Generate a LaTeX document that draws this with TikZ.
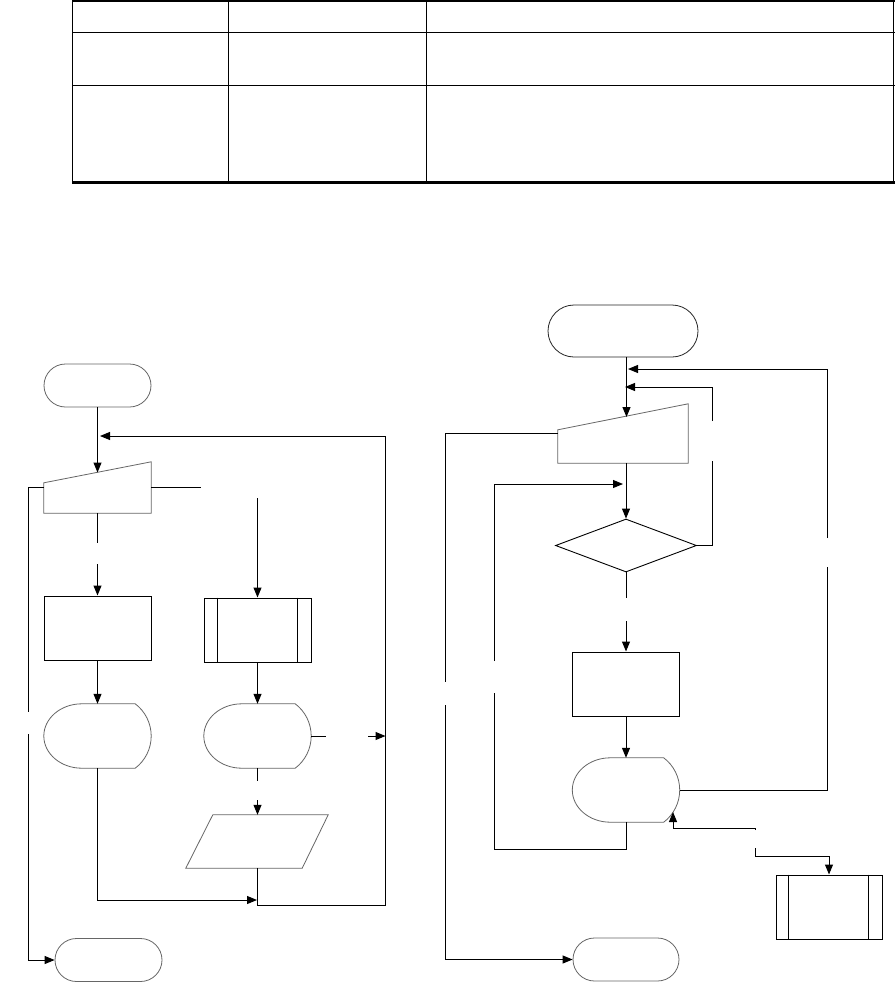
\documentclass[tikz,border=0pt]{standalone}
\usetikzlibrary{arrows.meta,shapes.geometric,shapes.misc,calc}
\newcommand{\drawdisplay}[1]{%
  \draw[outl] ([xshift=38pt]#1.north west) -- ([xshift=-16pt]#1.north east)
    .. controls ([xshift=-5.9pt,yshift=-7.6pt]#1.north east) and ([yshift=12.6pt]#1.east) .. (#1.east)
    .. controls ([yshift=-12.6pt]#1.east) and ([xshift=-5.9pt,yshift=7.6pt]#1.south east) .. ([xshift=-16pt]#1.south east)
    -- ([xshift=38pt]#1.south west)
    .. controls ([xshift=17pt]#1.south west) and ([yshift=-17.7pt]#1.west) .. (#1.west)
    .. controls ([yshift=17.7pt]#1.west) and ([xshift=17pt]#1.north west) .. cycle;}
\begin{document}
\begin{tikzpicture}[x=1pt,y=-1pt,
  conn/.style={line width=1pt, draw=black},
  arr/.style={conn, -{Triangle[length=10pt,width=8pt]}},
  outl/.style={line width=0.8pt, draw=black!60},
  proc/.style={draw=black, line width=1pt, minimum width=107pt, minimum height=64pt, inner sep=0pt},
  term/.style={rounded rectangle, outl, minimum width=107pt, minimum height=43pt, inner sep=0pt},
  ghost/.style={inner sep=0pt, minimum width=107pt, minimum height=64pt},
  tbl/.style={line width=1pt, draw=black}
]
\fill[white] (0,0) rectangle (895,982);
\useasboundingbox (0,0) rectangle (895,982);

% ---------- table ----------
\draw[tbl] (72.5,0) -- (72.5,183);
\draw[tbl] (228,0) -- (228,183);
\draw[tbl] (426,0) -- (426,183);
\draw[tbl] (893.5,0) -- (893.5,183);
\draw[tbl] (72,32.5) -- (895,32.5);
\draw[tbl] (72,85.5) -- (895,85.5);
\draw[line width=2.2pt] (72,1.1) -- (895,1.1);
\draw[line width=2.4pt] (72,182.5) -- (895,182.5);

% ---------- left flowchart ----------
\node[term] (t1) at (97.5,385.5) {};
\node[ghost, minimum height=51pt] (m1) at (97.5,487.5) {};
\draw[outl] (m1.south west) -- (m1.south east) -- (m1.north east) -- ([yshift=-21pt]m1.north west) -- cycle;
\node[proc] (p1) at (97.5,628) {};
\node[proc] (s1) at (257.5,630) {};
\draw[line width=1pt] ([xshift=14pt]s1.north west) -- ([xshift=14pt]s1.south west);
\draw[line width=1pt] ([xshift=-14pt]s1.north east) -- ([xshift=-14pt]s1.south east);
\node[ghost] (d1) at (97.5,736) {};
\drawdisplay{d1}
\node[ghost] (d2) at (257.5,736) {};
\drawdisplay{d2}
\node[ghost, minimum width=142pt, minimum height=53pt] (pg) at (257,841.5) {};
\draw[outl] ([xshift=27pt]pg.north west) -- (pg.north east) -- ([xshift=-26pt]pg.south east) -- (pg.south west) -- cycle;
\node[term] (t2) at (108.5,960) {};

\coordinate (m1in) at (97.5,472.5);
\coordinate (lp) at (100,436);
\coordinate (rc) at (385.5,905);
\coordinate (pgout) at (257.5,868);
\coordinate (g1a) at (28,712);
\coordinate (g1b) at (28,734);
\coordinate (g2a) at (201,487.5);
\coordinate (g2b) at (257.5,498);
\coordinate (g3a) at (97.5,543);
\coordinate (g3b) at (97.5,564);
\coordinate (jn) at (257,900);
\coordinate (g4a) at (326,736);
\coordinate (g4b) at (368,736);
\coordinate (g4c) at (385.5,736);
\coordinate (g5a) at (257.5,781);
\coordinate (g5b) at (257.5,800);

\draw[arr] (t1.south) -- (m1in);
\draw[arr] (pgout) |- (rc) -- (rc |- lp) -- (lp);
\draw[conn] (m1.west) -| (g1a);
\draw[arr] (g1b) |- (t2.west);
\draw[conn] (m1.east) -- (g2a);
\draw[arr] (g2b) -- (s1.north);
\draw[conn] (m1.south) -- (g3a);
\draw[arr] (g3b) -- (p1.north);
\draw[arr] (p1.south) -- (d1.north);
\draw[arr] (s1.south) -- (d2.north);
\draw[arr] (d1.south) |- (jn);
\draw[conn] (d2.east) -- (g4a);
\draw[arr] (g4b) -- (g4c);
\draw[conn] (d2.south) -- (g5a);
\draw[arr] (g5b) -- (g5b |- pg.north);

% ---------- right flowchart ----------
\node[term, draw=black!85, minimum width=150pt, minimum height=52pt] (t3) at (623,331) {};
\node[ghost, minimum width=130pt, minimum height=59pt] (m2) at (623,433.5) {};
\draw[outl] (m2.south west) -- (m2.south east) -- (m2.north east) -- ([yshift=-26pt]m2.north west) -- cycle;
\node[diamond, draw=black, line width=0.9pt, minimum width=141pt, minimum height=53pt, inner sep=0pt] (dm) at (626,545.5) {};
\node[proc] (p2) at (626,684) {};
\node[ghost] (d3) at (626,790) {};
\drawdisplay{d3}
\node[proc, minimum width=106pt] (s2) at (829,907) {};
\draw[line width=1pt] ([xshift=12.5pt]s2.north west) -- ([xshift=12.5pt]s2.south west);
\draw[line width=1pt] ([xshift=-14.5pt]s2.north east) -- ([xshift=-14.5pt]s2.south east);
\node[term, minimum width=106pt] (t4) at (626,959.5) {};

\coordinate (m2in) at (626.5,417);
\coordinate (f1) at (628,369);
\coordinate (f1c) at (827,538);
\coordinate (f1d) at (827,567);
\coordinate (f2) at (625,387);
\coordinate (f2c) at (712,461);
\coordinate (f2d) at (712,421);
\coordinate (g6a) at (445,682);
\coordinate (g6b) at (445,705);
\coordinate (c849) at (626,849);
\coordinate (g7a) at (494,693);
\coordinate (g7b) at (494,661);
\coordinate (lp3) at (623,484);
\coordinate (g8a) at (626,598);
\coordinate (g8b) at (626,621);
\coordinate (d3in) at (673,812);
\coordinate (g9a) at (755,830);
\coordinate (k1) at (755,828);
\coordinate (g9b) at (755,848);
\coordinate (k2) at (755,856);

\draw[arr] (t3.south -| m2in) -- (m2in);
\draw[arr] (m2.south -| dm.north) -- (dm.north);
\draw[conn] (d3.east) -| (f1d);
\draw[arr] (f1c) |- (f1);
\draw[conn] (dm.east) -| (f2c);
\draw[arr] (f2d) |- (f2);
\draw[conn] (m2.west) -| (g6a);
\draw[arr] (g6b) |- (t4.west);
\draw[conn] (d3.south) -- (c849) -| (g7a);
\draw[arr] (g7b) |- (lp3);
\draw[conn] (dm.south) -- (g8a);
\draw[arr] (g8b) -- (p2.north);
\draw[arr] (p2.south) -- (d3.north);
\draw[arr] (g9a) -- (k1) -| (d3in);
\draw[arr] (g9b) -- (k2) -| (s2.north);
\end{tikzpicture}
\end{document}
